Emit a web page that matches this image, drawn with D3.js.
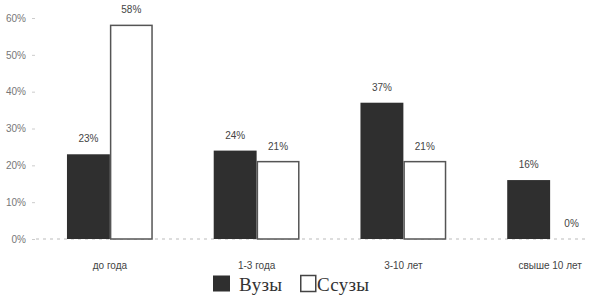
<!DOCTYPE html>
<html><head><meta charset="utf-8">
<script src="https://cdn.jsdelivr.net/npm/d3@7"></script>
<style>body{margin:0;background:#fff}svg{display:block}</style>
</head><body><svg id="c" width="589" height="303"></svg>
<script>
const categories = ["до года", "1-3 года", "3-10 лет", "свыше 10 лет"];
const seriesNames = ["Вузы", "Ссузы"];
const vuzy = [23, 24, 37, 16];
const ssuzy = [58, 21, 21, 0];
const yTicks = [0, 10, 20, 30, 40, 50, 60];

const svg = d3.select("#c");
const x0 = d3.scaleBand().domain(categories).range([36.5, 623.5]).padding(0);
const x1 = d3.scaleBand().domain(seriesNames).range([0, x0.bandwidth()]).paddingInner(0).paddingOuter(0.71);
const y = d3.scaleLinear().domain([0, 60]).range([239, 18]);

// baseline
svg.append("line").attr("x1", 36).attr("x2", 589).attr("y1", y(0)).attr("y2", y(0))
  .attr("stroke", "#bbb").attr("stroke-dasharray", "3,4").attr("stroke-width", 1);

// y axis labels
const yAxis = d3.axisLeft(y).tickValues(yTicks).tickFormat(d => d + "%").tickSize(3).tickPadding(6);
const ga = svg.append("g").attr("transform", "translate(35,0)").call(yAxis);
ga.select(".domain").remove();
ga.selectAll(".tick line").attr("stroke", "#ccc");
ga.selectAll("text").attr("font-family", "Arial, Liberation Sans, sans-serif").attr("font-size", 10).attr("fill", "#777");

const data = categories.map((c, i) => ({c, vals: [{s: seriesNames[0], v: vuzy[i]}, {s: seriesNames[1], v: ssuzy[i]}]}));

const g = svg.selectAll("g.grp").data(data).enter().append("g").attr("class", "grp")
  .attr("transform", d => `translate(${x0(d.c)},0)`);

g.selectAll("rect").data(d => d.vals.filter(e => e.v > 0)).enter().append("rect")
  .attr("x", e => x1(e.s) + (e.s === seriesNames[1] ? 0.75 : 0))
  .attr("width", e => x1.bandwidth() - (e.s === seriesNames[1] ? 1.5 : 0))
  .attr("y", e => y(e.v))
  .attr("height", e => y(0) - y(e.v))
  .attr("fill", e => e.s === seriesNames[0] ? "#2f2f2f" : "#fff")
  .attr("stroke", e => e.s === seriesNames[0] ? "none" : "#555")
  .attr("stroke-width", 1.5);

g.selectAll("text.val").data(d => d.vals).enter().append("text").attr("class", "val")
  .attr("x", e => x1(e.s) + x1.bandwidth() / 2)
  .attr("y", e => y(e.v) - 12)
  .attr("text-anchor", "middle")
  .attr("font-family", "Arial, Liberation Sans, sans-serif").attr("font-size", 10)
  .attr("fill", "#444")
  .text(e => e.v + "%");

// category labels
svg.selectAll("text.cat").data(categories).enter().append("text").attr("class", "cat")
  .attr("x", d => x0(d) + x0.bandwidth() / 2)
  .attr("y", 269)
  .attr("text-anchor", "middle")
  .attr("font-family", "Arial, Liberation Sans, sans-serif").attr("font-size", 10)
  .attr("fill", "#444")
  .text(d => d);

// legend
const leg = svg.append("g");
const legX = [213, 300];
seriesNames.forEach((s, i) => {
  leg.append("rect").attr("x", legX[i] + (i ? 0.75 : 0)).attr("y", 275.5).attr("width", i ? 15 : 17).attr("height", 16)
    .attr("fill", i ? "#fff" : "#2f2f2f").attr("stroke", i ? "#444" : "none").attr("stroke-width", 1.5);
  leg.append("text").attr("x", legX[i] + (i ? 17 : 26)).attr("y", 291)
    .attr("font-family", "Liberation Serif, Times New Roman, serif").attr("font-size", 19)
    .attr("letter-spacing", 0.3)
    .attr("fill", "#333").text(s);
});
</script></body></html>
